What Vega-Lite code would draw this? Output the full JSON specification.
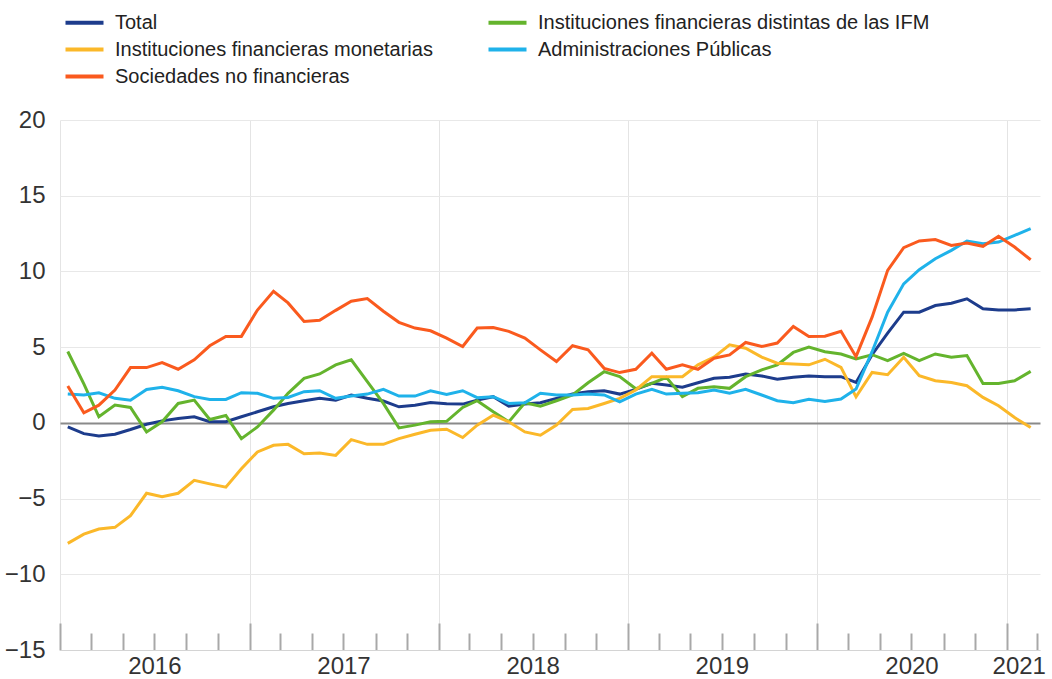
{
  "$schema": "https://vega.github.io/schema/vega-lite/v6.json",
  "width": 980,
  "height": 530,
  "autosize": {"type": "none"},
  "padding": {"left": 60, "top": 120, "right": 12, "bottom": 29},
  "background": "white",
  "config": {"view": {"stroke": null}, "font": "Liberation Sans"},
  "data": {"values": [
    {"d": "2016-01-16", "total": -0.27, "ifm": -7.96, "snf": 2.43, "ifnm": 4.71, "ap": 1.9},
    {"d": "2016-02-16", "total": -0.71, "ifm": -7.35, "snf": 0.66, "ifnm": 2.57, "ap": 1.84},
    {"d": "2016-03-16", "total": -0.86, "ifm": -7.01, "snf": 1.17, "ifnm": 0.4, "ap": 1.99},
    {"d": "2016-04-16", "total": -0.75, "ifm": -6.9, "snf": 2.17, "ifnm": 1.17, "ap": 1.62},
    {"d": "2016-05-16", "total": -0.44, "ifm": -6.13, "snf": 3.65, "ifnm": 1.02, "ap": 1.5},
    {"d": "2016-06-16", "total": -0.09, "ifm": -4.65, "snf": 3.65, "ifnm": -0.6, "ap": 2.21},
    {"d": "2016-07-16", "total": 0.13, "ifm": -4.87, "snf": 3.98, "ifnm": 0.07, "ap": 2.35},
    {"d": "2016-08-16", "total": 0.29, "ifm": -4.65, "snf": 3.54, "ifnm": 1.28, "ap": 2.12},
    {"d": "2016-09-16", "total": 0.4, "ifm": -3.8, "snf": 4.16, "ifnm": 1.5, "ap": 1.73},
    {"d": "2016-10-16", "total": 0.07, "ifm": -4.03, "snf": 5.09, "ifnm": 0.22, "ap": 1.55},
    {"d": "2016-11-16", "total": 0.07, "ifm": -4.25, "snf": 5.71, "ifnm": 0.49, "ap": 1.55},
    {"d": "2016-12-16", "total": 0.4, "ifm": -3.03, "snf": 5.71, "ifnm": -1.04, "ap": 1.99},
    {"d": "2017-01-16", "total": 0.73, "ifm": -1.92, "snf": 7.45, "ifnm": -0.27, "ap": 1.95},
    {"d": "2017-02-16", "total": 1.06, "ifm": -1.48, "snf": 8.69, "ifnm": 0.84, "ap": 1.62},
    {"d": "2017-03-16", "total": 1.28, "ifm": -1.42, "snf": 7.92, "ifnm": 1.95, "ap": 1.68},
    {"d": "2017-04-16", "total": 1.46, "ifm": -2.04, "snf": 6.7, "ifnm": 2.94, "ap": 2.06},
    {"d": "2017-05-16", "total": 1.62, "ifm": -1.99, "snf": 6.77, "ifnm": 3.23, "ap": 2.12},
    {"d": "2017-06-16", "total": 1.5, "ifm": -2.15, "snf": 7.43, "ifnm": 3.83, "ap": 1.62},
    {"d": "2017-07-16", "total": 1.84, "ifm": -1.11, "snf": 8.03, "ifnm": 4.16, "ap": 1.77},
    {"d": "2017-08-16", "total": 1.62, "ifm": -1.42, "snf": 8.21, "ifnm": 2.72, "ap": 1.9},
    {"d": "2017-09-16", "total": 1.44, "ifm": -1.42, "snf": 7.37, "ifnm": 1.28, "ap": 2.21},
    {"d": "2017-10-16", "total": 1.06, "ifm": -1.04, "snf": 6.64, "ifnm": -0.33, "ap": 1.77},
    {"d": "2017-11-16", "total": 1.17, "ifm": -0.75, "snf": 6.26, "ifnm": -0.15, "ap": 1.77},
    {"d": "2017-12-16", "total": 1.35, "ifm": -0.49, "snf": 6.08, "ifnm": 0.07, "ap": 2.12},
    {"d": "2018-01-16", "total": 1.26, "ifm": -0.42, "snf": 5.6, "ifnm": 0.1, "ap": 1.87},
    {"d": "2018-02-16", "total": 1.24, "ifm": -0.97, "snf": 5.04, "ifnm": 1.02, "ap": 2.12},
    {"d": "2018-03-16", "total": 1.5, "ifm": -0.15, "snf": 6.26, "ifnm": 1.46, "ap": 1.66},
    {"d": "2018-04-16", "total": 1.73, "ifm": 0.51, "snf": 6.3, "ifnm": 0.73, "ap": 1.73},
    {"d": "2018-05-16", "total": 1.1, "ifm": 0.07, "snf": 6.04, "ifnm": 0.07, "ap": 1.28},
    {"d": "2018-06-16", "total": 1.24, "ifm": -0.6, "snf": 5.6, "ifnm": 1.33, "ap": 1.33},
    {"d": "2018-07-16", "total": 1.33, "ifm": -0.82, "snf": 4.82, "ifnm": 1.1, "ap": 1.95},
    {"d": "2018-08-16", "total": 1.62, "ifm": -0.15, "snf": 4.05, "ifnm": 1.46, "ap": 1.84},
    {"d": "2018-09-16", "total": 1.9, "ifm": 0.88, "snf": 5.09, "ifnm": 1.84, "ap": 1.84},
    {"d": "2018-10-16", "total": 2.06, "ifm": 0.95, "snf": 4.82, "ifnm": 2.65, "ap": 1.9},
    {"d": "2018-11-16", "total": 2.12, "ifm": 1.28, "snf": 3.6, "ifnm": 3.38, "ap": 1.84},
    {"d": "2018-12-16", "total": 1.9, "ifm": 1.62, "snf": 3.32, "ifnm": 3.05, "ap": 1.39},
    {"d": "2019-01-16", "total": 2.21, "ifm": 2.17, "snf": 3.54, "ifnm": 2.25, "ap": 1.9},
    {"d": "2019-02-16", "total": 2.61, "ifm": 3.05, "snf": 4.6, "ifnm": 2.61, "ap": 2.21},
    {"d": "2019-03-16", "total": 2.5, "ifm": 3.05, "snf": 3.54, "ifnm": 3.01, "ap": 1.9},
    {"d": "2019-04-16", "total": 2.35, "ifm": 3.05, "snf": 3.83, "ifnm": 1.73, "ap": 1.95},
    {"d": "2019-05-16", "total": 2.65, "ifm": 3.83, "snf": 3.54, "ifnm": 2.28, "ap": 1.99},
    {"d": "2019-06-16", "total": 2.94, "ifm": 4.34, "snf": 4.27, "ifnm": 2.39, "ap": 2.17},
    {"d": "2019-07-16", "total": 3.01, "ifm": 5.15, "snf": 4.49, "ifnm": 2.28, "ap": 1.95},
    {"d": "2019-08-16", "total": 3.23, "ifm": 4.93, "snf": 5.31, "ifnm": 3.05, "ap": 2.21},
    {"d": "2019-09-16", "total": 3.1, "ifm": 4.34, "snf": 5.04, "ifnm": 3.5, "ap": 1.84},
    {"d": "2019-10-16", "total": 2.88, "ifm": 3.94, "snf": 5.27, "ifnm": 3.83, "ap": 1.46},
    {"d": "2019-11-16", "total": 3.01, "ifm": 3.89, "snf": 6.37, "ifnm": 4.65, "ap": 1.33},
    {"d": "2019-12-16", "total": 3.1, "ifm": 3.83, "snf": 5.71, "ifnm": 5.0, "ap": 1.55},
    {"d": "2020-01-16", "total": 3.05, "ifm": 4.2, "snf": 5.72, "ifnm": 4.7, "ap": 1.41},
    {"d": "2020-02-16", "total": 3.05, "ifm": 3.66, "snf": 6.05, "ifnm": 4.55, "ap": 1.57},
    {"d": "2020-03-16", "total": 2.67, "ifm": 1.72, "snf": 4.37, "ifnm": 4.22, "ap": 2.23},
    {"d": "2020-04-16", "total": 4.5, "ifm": 3.33, "snf": 6.98, "ifnm": 4.5, "ap": 4.7},
    {"d": "2020-05-16", "total": 5.92, "ifm": 3.18, "snf": 10.07, "ifnm": 4.11, "ap": 7.31},
    {"d": "2020-06-16", "total": 7.31, "ifm": 4.33, "snf": 11.57, "ifnm": 4.59, "ap": 9.18},
    {"d": "2020-07-16", "total": 7.31, "ifm": 3.11, "snf": 12.01, "ifnm": 4.11, "ap": 10.11},
    {"d": "2020-08-16", "total": 7.75, "ifm": 2.78, "snf": 12.1, "ifnm": 4.55, "ap": 10.84},
    {"d": "2020-09-16", "total": 7.9, "ifm": 2.67, "snf": 11.72, "ifnm": 4.33, "ap": 11.39},
    {"d": "2020-10-16", "total": 8.19, "ifm": 2.45, "snf": 11.88, "ifnm": 4.44, "ap": 12.01},
    {"d": "2020-11-16", "total": 7.53, "ifm": 1.68, "snf": 11.66, "ifnm": 2.6, "ap": 11.83},
    {"d": "2020-12-16", "total": 7.46, "ifm": 1.13, "snf": 12.32, "ifnm": 2.6, "ap": 11.94},
    {"d": "2021-01-16", "total": 7.46, "ifm": 0.35, "snf": 11.61, "ifnm": 2.78, "ap": 12.38},
    {"d": "2021-02-16", "total": 7.53, "ifm": -0.31, "snf": 10.77, "ifnm": 3.4, "ap": 12.83}
  ]},
  "transform": [{"fold": ["total", "ifnm", "ifm", "ap", "snf"], "as": ["serie", "value"]}],
  "mark": {"type": "line", "strokeWidth": 3},
  "encoding": {
    "x": {
      "field": "d", "type": "temporal",
      "scale": {"type": "utc", "domain": [{"year": 2016, "month": 1, "date": 1, "utc": true}, {"year": 2021, "month": 3, "date": 6, "utc": true}]},
      "axis": {
        "title": null,
        "values": [
          {"year": 2016, "month": 1, "date": 1, "utc": true}, {"year": 2016, "month": 3, "date": 1, "utc": true}, {"year": 2016, "month": 5, "date": 1, "utc": true}, {"year": 2016, "month": 7, "date": 1, "utc": true}, {"year": 2016, "month": 9, "date": 1, "utc": true}, {"year": 2016, "month": 11, "date": 1, "utc": true},
          {"year": 2017, "month": 1, "date": 1, "utc": true}, {"year": 2017, "month": 3, "date": 1, "utc": true}, {"year": 2017, "month": 5, "date": 1, "utc": true}, {"year": 2017, "month": 7, "date": 1, "utc": true}, {"year": 2017, "month": 9, "date": 1, "utc": true}, {"year": 2017, "month": 11, "date": 1, "utc": true},
          {"year": 2018, "month": 1, "date": 1, "utc": true}, {"year": 2018, "month": 3, "date": 1, "utc": true}, {"year": 2018, "month": 5, "date": 1, "utc": true}, {"year": 2018, "month": 7, "date": 1, "utc": true}, {"year": 2018, "month": 9, "date": 1, "utc": true}, {"year": 2018, "month": 11, "date": 1, "utc": true},
          {"year": 2019, "month": 1, "date": 1, "utc": true}, {"year": 2019, "month": 3, "date": 1, "utc": true}, {"year": 2019, "month": 5, "date": 1, "utc": true}, {"year": 2019, "month": 7, "date": 1, "utc": true}, {"year": 2019, "month": 9, "date": 1, "utc": true}, {"year": 2019, "month": 11, "date": 1, "utc": true},
          {"year": 2020, "month": 1, "date": 1, "utc": true}, {"year": 2020, "month": 3, "date": 1, "utc": true}, {"year": 2020, "month": 5, "date": 1, "utc": true}, {"year": 2020, "month": 7, "date": 1, "utc": true}, {"year": 2020, "month": 9, "date": 1, "utc": true}, {"year": 2020, "month": 11, "date": 1, "utc": true},
          {"year": 2021, "month": 1, "date": 1, "utc": true}, {"year": 2021, "month": 1, "date": 24, "utc": true}, {"year": 2021, "month": 3, "date": 1, "utc": true}
        ],
        "domain": true, "domainColor": "#d4d4d4", "domainWidth": 1,
        "grid": true, "gridColor": "#e4e4e4", "gridWidth": 1,
        "gridOpacity": {"condition": {"test": "utcmonth(datum.value) === 0 && utcdate(datum.value) === 1", "value": 1}, "value": 0},
        "ticks": true, "tickColor": "#a8a8a8", "tickWidth": 2,
        "tickSize": {"condition": {"test": "utcmonth(datum.value) === 0 && utcdate(datum.value) === 1", "value": -27}, "value": -17},
        "tickOpacity": {"condition": {"test": "utcdate(datum.value) === 24", "value": 0}, "value": 1},
        "labelExpr": "(utcmonth(datum.value) === 6 || utcdate(datum.value) === 24) ? utcFormat(datum.value, '%Y') : ''",
        "labelPadding": 21,
        "labelFontSize": 24, "labelColor": "#333333", "labelOverlap": false, "labelFlush": false, "labelBound": false
      }
    },
    "y": {
      "field": "value", "type": "quantitative",
      "scale": {"domain": [-15, 20], "nice": false, "zero": false},
      "axis": {
        "title": null, "values": [-15, -10, -5, 0, 5, 10, 15, 20],
        "domain": false, "ticks": false, "grid": true,
        "gridColor": {"condition": {"test": "datum.value === 0", "value": "#8a8a8a"}, "value": "#e8e8e8"},
        "gridWidth": {"condition": {"test": "datum.value === 0", "value": 2}, "value": 1},
        "labelFontSize": 24, "labelColor": "#333333", "labelPadding": 15
      }
    },
    "color": {
      "field": "serie", "type": "nominal",
      "scale": {"domain": ["total", "ifnm", "ifm", "ap", "snf"], "range": ["#1d3c8c", "#64b42d", "#fbb829", "#1fb2ea", "#fa5a1e"]},
      "legend": {
        "orient": "none", "legendX": 13, "legendY": -109, "title": null,
        "columns": 2, "direction": "horizontal",
        "symbolType": "M-2,0H2", "symbolSize": 361, "symbolStrokeWidth": 4,
        "labelFontSize": 20, "labelColor": "#222222", "labelLimit": 600, "labelOffset": 19,
        "rowPadding": 5, "columnPadding": 47, "padding": 0,
        "labelExpr": "datum.label === 'total' ? 'Total' : datum.label === 'ifnm' ? 'Instituciones financieras distintas de las IFM' : datum.label === 'ifm' ? 'Instituciones financieras monetarias' : datum.label === 'ap' ? 'Administraciones Públicas' : 'Sociedades no financieras'"
      }
    }
  }
}
